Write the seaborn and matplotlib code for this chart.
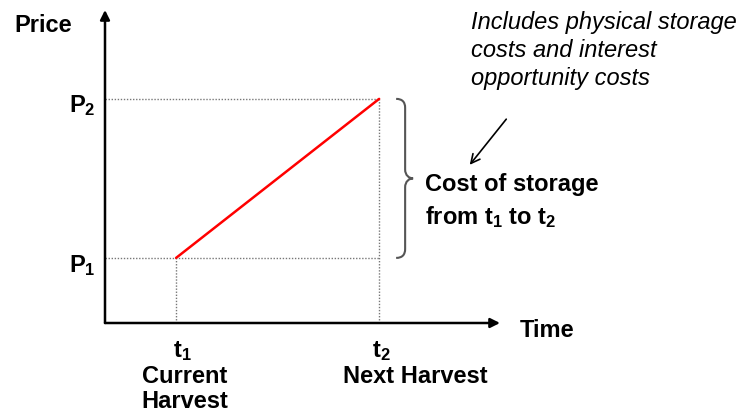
import matplotlib
matplotlib.use("Agg")
import matplotlib.pyplot as plt
import seaborn as sns
import pandas as pd
from matplotlib.path import Path
from matplotlib.patches import PathPatch

# ---- data ----
times = [1.80, 6.94]          # t1, t2 positions on the time axis
prices = [2.08, 7.16]         # P1, P2 price levels
time_labels = [r"$\mathbf{t_1}$", r"$\mathbf{t_2}$"]
time_names = ["Current\nHarvest", "Next Harvest"]
price_labels = [r"$\mathbf{P_1}$", r"$\mathbf{P_2}$"]
axis_titles = ["Price", "Time"]
brace_label = ["Cost of storage", r"from $\mathbf{t_1}$ to $\mathbf{t_2}$"]
note_lines = ["Includes physical storage", "costs and interest", "opportunity costs"]

sns.set_style("white")
plt.rcParams["font.family"] = ["Liberation Sans", "DejaVu Sans"]
plt.rcParams["text.color"] = "black"
plt.rcParams["mathtext.fontset"] = "custom"
plt.rcParams["mathtext.bf"] = "Liberation Sans:bold"
plt.rcParams["mathtext.rm"] = "Liberation Sans"
plt.rcParams["mathtext.it"] = "Liberation Sans:italic"

W, H = 746, 413
fig = plt.figure(figsize=(W / 100, H / 100), dpi=100)
x0, x1, y0, y1 = 105, 500, 10, 323
ax = fig.add_axes([x0 / W, 1 - y1 / H, (x1 - x0) / W, (y1 - y0) / H])
ax.set_xlim(0, 10)
ax.set_ylim(0, 10)
for s in ax.spines.values():
    s.set_visible(False)
ax.set_xticks([])
ax.set_yticks([])
ax.patch.set_alpha(0)

sx = 10 / (x1 - x0)   # data units per px
sy = 10 / (y1 - y0)

def fpx(x, y):
    return x / W, 1 - y / H

# axes arrows
arrow_kw = dict(arrowstyle="-|>", color="black", lw=1.8, mutation_scale=14,
                shrinkA=0, shrinkB=0)
ax.annotate("", xy=(10, 0), xytext=(0, 0), arrowprops=arrow_kw, annotation_clip=False)
ax.annotate("", xy=(0, 10), xytext=(0, 0), arrowprops=arrow_kw, annotation_clip=False)

# dotted guides
dot_kw = dict(color="#777777", lw=1.0, ls=(0, (1, 1.2)))
for p in prices:
    ax.plot([0, times[1]], [p, p], **dot_kw)
for t, p in zip(times, prices):
    ax.plot([t, t], [0, p], **dot_kw)

# the price line
df = pd.DataFrame({"time": times, "price": prices})
sns.lineplot(data=df, x="time", y="price", color="red", lw=1.8, ax=ax)
ax.set_xlabel("")
ax.set_ylabel("")
ax.set_xlim(0, 10)
ax.set_ylim(0, 10)

# brace
bx = times[1] + 17 * sx
bv = bx + 9 * sx
bt = bx + 17 * sx
ytop, ybot = prices[1], prices[0]
ymid = (ytop + ybot) / 2
c = 9 * sy
verts = [
    (bx, ytop), (bx + 6 * sx, ytop), (bv, ytop - 3 * sy), (bv, ytop - c),
    (bv, ymid + c),
    (bv, ymid + 3 * sy), (bv + 4 * sx, ymid), (bt, ymid),
    (bv + 4 * sx, ymid), (bv, ymid - 3 * sy), (bv, ymid - c),
    (bv, ybot + c),
    (bv, ybot + 3 * sy), (bx + 6 * sx, ybot), (bx, ybot),
]
codes = [Path.MOVETO, Path.CURVE4, Path.CURVE4, Path.CURVE4,
         Path.LINETO,
         Path.CURVE4, Path.CURVE4, Path.CURVE4,
         Path.CURVE4, Path.CURVE4, Path.CURVE4,
         Path.LINETO,
         Path.CURVE4, Path.CURVE4, Path.CURVE4]
ax.add_patch(PathPatch(Path(verts, codes), fill=False, edgecolor="#555555",
                       lw=1.5, clip_on=False))

# pointer arrow
fig.add_artist(matplotlib.patches.FancyArrowPatch(
    fpx(508, 117), fpx(468, 167), transform=fig.transFigure,
    arrowstyle="->", mutation_scale=16, color="black", lw=1.2))

FS = 17
# axis titles
fig.text(*fpx(14, 32), axis_titles[0], fontsize=FS, fontweight="bold", ha="left", va="baseline")
fig.text(*fpx(520, 337), axis_titles[1], fontsize=FS, fontweight="bold", ha="left", va="baseline")

# price labels
fig.text(*fpx(69, 112), price_labels[1], fontsize=FS, ha="left", va="baseline")
fig.text(*fpx(69, 272), price_labels[0], fontsize=FS, ha="left", va="baseline")

# time labels
fig.text(*fpx(182, 357), time_labels[0], fontsize=FS, ha="center", va="baseline")
fig.text(*fpx(381, 357), time_labels[1], fontsize=FS, ha="center", va="baseline")
fig.text(*fpx(185, 383), time_names[0].split("\n")[0], fontsize=FS, fontweight="bold", ha="center", va="baseline")
fig.text(*fpx(185, 408), time_names[0].split("\n")[1], fontsize=FS, fontweight="bold", ha="center", va="baseline")
fig.text(*fpx(415, 383), time_names[1], fontsize=FS, fontweight="bold", ha="center", va="baseline")

# brace label
fig.text(*fpx(425, 191), brace_label[0], fontsize=FS, fontweight="bold", ha="left", va="baseline")
fig.text(*fpx(425, 224), brace_label[1], fontsize=FS, fontweight="bold", ha="left", va="baseline")

# note
for i, line in enumerate(note_lines):
    fig.text(*fpx(471, 29 + 28 * i), line, fontsize=FS, fontstyle="italic", ha="left", va="baseline")

fig.savefig("out.png", dpi=100)
